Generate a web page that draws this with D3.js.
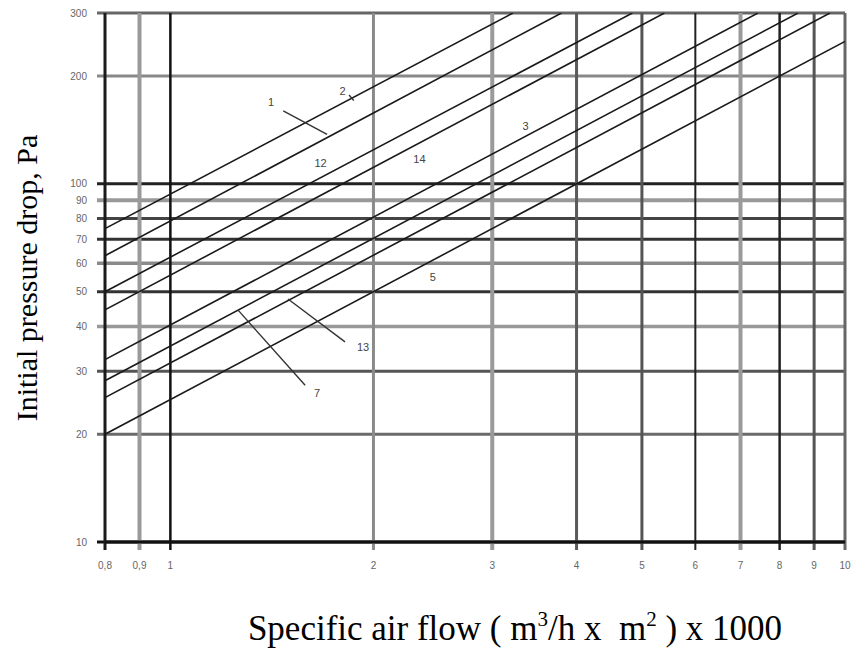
<!DOCTYPE html>
<html>
<head>
<meta charset="utf-8">
<script src="https://cdn.jsdelivr.net/npm/d3@7"></script>
<style>
  body { margin: 0; background: #fff; }
  svg { display: block; }
</style>
</head>
<body>
<svg id="chart" width="855" height="648"></svg>
<script>
// curve names and the two end points read for each straight line
const curveNames = ['2', '1', '12', '14', '3', '7', '13', '5'];
const flowStart = [0.8, 0.8, 0.8, 0.8, 0.8, 0.8, 0.8, 0.8];
const pressureStart = [75, 63, 50, 44.5, 32.3, 28.2, 25.3, 20];
const flowEnd = [3.22, 3.8, 4.84, 5.4, 7.43, 8.52, 9.5, 10];
const pressureEnd = [300, 300, 300, 300, 300, 300, 300, 250];

// label text, label anchor (flow, pressure) and optional leader line
const labelText = ['2', '1', '12', '14', '3', '5', '13', '7'];
const labelFlow = [1.80, 1.41, 1.67, 2.34, 3.36, 2.45, 1.93, 1.65];
const labelPressure = [181, 169, 114, 117, 145, 55, 35, 26];
const leaderFrom = [[1.84, 177], [1.47, 160], null, null, null, null, [1.494, 47.7], [1.26, 44.4]];
const leaderTo = [[1.87, 171], [1.707, 137.5], null, null, null, null, [1.815, 36.2], [1.584, 27.4]];

const xTicks = [0.8, 0.9, 1, 2, 3, 4, 5, 6, 7, 8, 9, 10];
const xTickLabels = ['0,8', '0,9', '1', '2', '3', '4', '5', '6', '7', '8', '9', '10'];
const yTicks = [10, 20, 30, 40, 50, 60, 70, 80, 90, 100, 200, 300];
const yTickLabels = ['10', '20', '30', '40', '50', '60', '70', '80', '90', '100', '200', '300'];

// look of each grid line (the scan mixes dark and light rules)
const xGridStyle = {
  0.8: ['#1a1a1a', 3], 0.9: ['#9a9a9a', 4], 1: ['#111', 2.5], 2: ['#8a8a8a', 3],
  3: ['#9a9a9a', 4], 4: ['#5a5a5a', 3], 5: ['#555', 3], 6: ['#222', 2],
  7: ['#9a9a9a', 4], 8: ['#222', 2.5], 9: ['#555', 3], 10: ['#666', 3]
};
const yGridStyle = {
  10: ['#111', 3], 20: ['#6a6a6a', 3], 30: ['#555', 3], 40: ['#999', 3.5],
  50: ['#333', 3], 60: ['#8a8a8a', 3.5], 70: ['#333', 3], 80: ['#444', 3],
  90: ['#999', 4], 100: ['#222', 3], 200: ['#888', 3], 300: ['#666', 3]
};

const svg = d3.select('#chart');
const margin = { top: 13, right: 10, bottom: 106, left: 105 };
const width = 855, height = 648;

const x = d3.scaleLog()
  .domain([0.8, 10])
  .range([margin.left, width - margin.right]);

const y = d3.scaleLog()
  .domain([10, 300])
  .range([height - margin.bottom, margin.top]);

svg.append('defs').append('clipPath').attr('id', 'plot')
  .append('rect')
  .attr('x', x(0.8)).attr('y', y(300))
  .attr('width', x(10) - x(0.8)).attr('height', y(10) - y(300));

// horizontal grid
svg.append('g')
  .selectAll('line')
  .data(yTicks)
  .enter()
  .append('line')
  .attr('x1', x(0.8) - 8)
  .attr('x2', x(10))
  .attr('y1', d => y(d))
  .attr('y2', d => y(d))
  .attr('stroke', d => yGridStyle[d][0])
  .attr('stroke-width', d => yGridStyle[d][1]);

// vertical grid
svg.append('g')
  .selectAll('line')
  .data(xTicks)
  .enter()
  .append('line')
  .attr('x1', d => x(d))
  .attr('x2', d => x(d))
  .attr('y1', y(300))
  .attr('y2', y(10) + 8)
  .attr('stroke', d => xGridStyle[d][0])
  .attr('stroke-width', d => xGridStyle[d][1]);

// re-draw the bottom axis line on top
svg.append('line')
  .attr('x1', x(0.8)).attr('x2', x(10))
  .attr('y1', y(10)).attr('y2', y(10))
  .attr('stroke', '#111').attr('stroke-width', 3);

// tick labels
svg.append('g')
  .selectAll('text')
  .data(yTicks)
  .enter()
  .append('text')
  .attr('x', x(0.8) - 18)
  .attr('y', d => y(d))
  .attr('dy', '0.35em')
  .attr('text-anchor', 'end')
  .style('font-family', 'Arial, "Liberation Sans", sans-serif')
  .style('font-size', '10px')
  .style('fill', '#666')
  .text((d, i) => yTickLabels[i]);

svg.append('g')
  .selectAll('text')
  .data(xTicks)
  .enter()
  .append('text')
  .attr('x', d => x(d))
  .attr('y', y(10) + 27)
  .attr('text-anchor', 'middle')
  .style('font-family', 'Arial, "Liberation Sans", sans-serif')
  .style('font-size', '10px')
  .style('fill', '#666')
  .text((d, i) => xTickLabels[i]);

// pressure drop lines
const line = d3.line()
  .x(d => x(d[0]))
  .y(d => y(d[1]));

svg.append('g')
  .attr('clip-path', 'url(#plot)')
  .selectAll('path')
  .data(curveNames)
  .enter()
  .append('path')
  .attr('d', (d, i) => line([[flowStart[i], pressureStart[i]], [flowEnd[i], pressureEnd[i]]]))
  .attr('fill', 'none')
  .attr('stroke', '#1a1a1a')
  .attr('stroke-width', 1.6);

// leader lines
svg.append('g')
  .selectAll('line')
  .data(labelText.filter((d, i) => leaderFrom[i]).map(d => labelText.indexOf(d)))
  .enter()
  .append('line')
  .attr('x1', i => x(leaderFrom[i][0]))
  .attr('y1', i => y(leaderFrom[i][1]))
  .attr('x2', i => x(leaderTo[i][0]))
  .attr('y2', i => y(leaderTo[i][1]))
  .attr('stroke', '#333')
  .attr('stroke-width', 1.4);

// curve labels
svg.append('g')
  .selectAll('text')
  .data(labelText)
  .enter()
  .append('text')
  .attr('x', (d, i) => x(labelFlow[i]))
  .attr('y', (d, i) => y(labelPressure[i]))
  .attr('dy', '0.35em')
  .attr('text-anchor', 'middle')
  .style('font-family', 'Arial, "Liberation Sans", sans-serif')
  .style('font-size', '11px')
  .style('fill', '#444')
  .text(d => d);

// axis titles
svg.append('text')
  .attr('transform', `translate(37, 278) rotate(-90)`)
  .attr('text-anchor', 'middle')
  .style('font-family', '"Liberation Serif", "Times New Roman", serif')
  .style('font-size', '30px')
  .style('fill', '#000')
  .text('Initial pressure drop, Pa');

const xTitle = svg.append('text')
  .attr('x', 515)
  .attr('y', 640)
  .attr('text-anchor', 'middle')
  .attr('xml:space', 'preserve')
  .style('white-space', 'pre')
  .style('font-family', '"Liberation Serif", "Times New Roman", serif')
  .style('font-size', '35px')
  .style('fill', '#000');
xTitle.append('tspan').text('Specific air flow ( m');
xTitle.append('tspan').attr('dy', -14).style('font-size', '21px').text('3');
xTitle.append('tspan').attr('dy', 14).text('/h x  m');
xTitle.append('tspan').attr('dy', -14).style('font-size', '21px').text('2');
xTitle.append('tspan').attr('dy', 14).text(' ) x 1000');
</script>
</body>
</html>
